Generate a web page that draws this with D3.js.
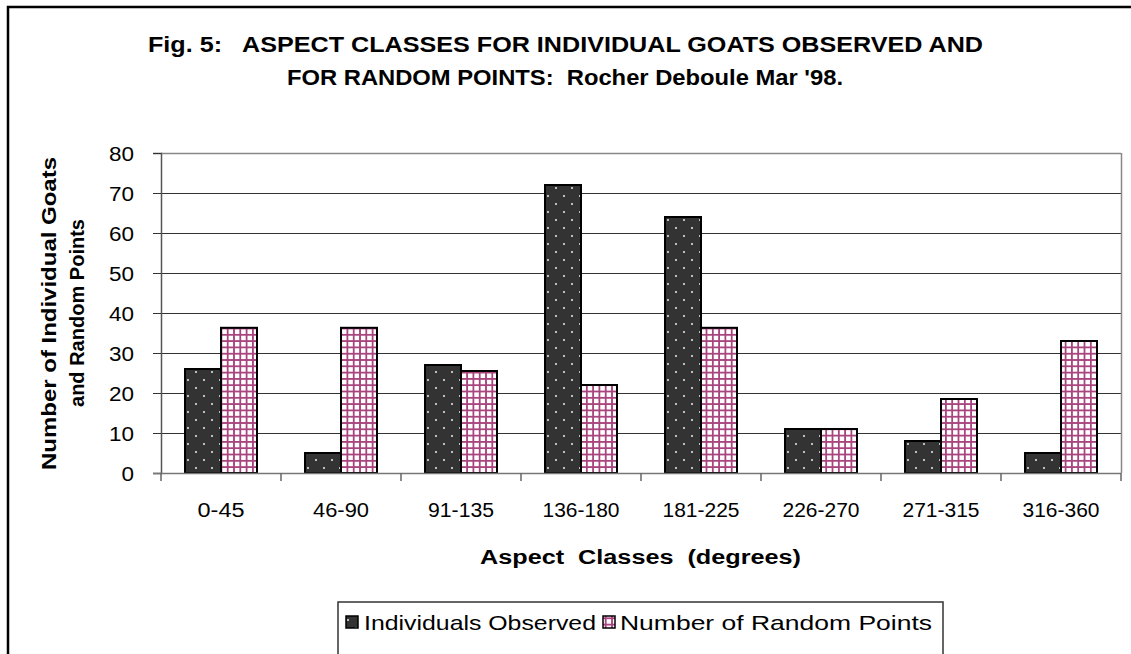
<!DOCTYPE html>
<html><head><meta charset="utf-8">
<script src="https://cdn.jsdelivr.net/npm/d3@7"></script>
<style>body{margin:0;background:#fff}svg{display:block}text{font-family:"Liberation Sans",Arial,sans-serif}</style>
</head><body><svg id="c" width="1131" height="654"></svg>
<script>
const categories = ["0-45","46-90","91-135","136-180","181-225","226-270","271-315","316-360"];
const individualsObserved = [26,5,27,72,64,11,8,5];
const randomPoints = [36.3,36.3,25.5,22,36.3,11,18.5,33];
const yTicks = [0,10,20,30,40,50,60,70,80];
const seriesNames = ["Individuals Observed","Number of Random Points"];

const svg = d3.select("#c");
const defs = svg.append("defs");
const pd = defs.append("pattern").attr("id","dots").attr("patternUnits","userSpaceOnUse")
  .attr("width",16).attr("height",16).attr("x",0).attr("y",0);
pd.append("rect").attr("width",16).attr("height",16).attr("fill","#333");
[[3,3],[11,11]].forEach(([x,y])=>pd.append("rect").attr("x",x).attr("y",y).attr("width",2).attr("height",2).attr("fill","#bdbdbd"));
const pc = defs.append("pattern").attr("id","checks").attr("patternUnits","userSpaceOnUse")
  .attr("width",6.3).attr("height",6.3);
pc.append("rect").attr("width",6.3).attr("height",6.3).attr("fill","#fff");
pc.append("rect").attr("x",0).attr("y",0).attr("width",1.8).attr("height",6.3).attr("fill","#a8447e");
pc.append("rect").attr("x",0).attr("y",0).attr("width",6.3).attr("height",1.8).attr("fill","#a8447e");

function stretch(sel, w){ sel.each(function(){ d3.select(this).attr("textLength",w(this.textContent)).attr("lengthAdjust","spacingAndGlyphs"); }); }

// frame
svg.append("rect").attr("x",8).attr("y",7).attr("width",1200).attr("height",800)
  .attr("fill","none").attr("stroke","#000").attr("stroke-width",2.5);

const L=161,R=1121,T=153,B=473;
const x = d3.scaleBand().domain(categories).range([L,R]).paddingInner(0.4).paddingOuter(0.2);
const y = d3.scaleLinear().domain([0,80]).range([B,T]);
const xs = d3.scaleBand().domain([0,1]).range([0,x.bandwidth()]);

// gridlines
svg.append("g").selectAll("line").data(yTicks.filter(d=>d>0)).join("line")
  .attr("x1",L).attr("x2",R).attr("y1",d=>Math.round(y(d))+0.5).attr("y2",d=>Math.round(y(d))+0.5)
  .attr("stroke","#333").attr("stroke-width",1);
svg.append("line").attr("x1",R+0.5).attr("x2",R+0.5).attr("y1",T).attr("y2",B).attr("stroke","#888").attr("stroke-width",1.5);
svg.append("line").attr("x1",L).attr("x2",R).attr("y1",T+0.5).attr("y2",T+0.5).attr("stroke","#888").attr("stroke-width",1.5);

// y axis
const ya = svg.append("g").attr("transform",`translate(${L},0)`)
  .call(d3.axisLeft(y).tickValues(yTicks).tickSize(8).tickPadding(19));
ya.select(".domain").attr("stroke","#555").attr("stroke-width",1.5);
ya.selectAll(".tick line").attr("stroke","#333");
ya.selectAll("text").attr("font-size",20).attr("fill","#000").attr("font-family","Liberation Sans, Arial, sans-serif").attr("dy","0.36em");
stretch(ya.selectAll("text"),t=>t.length*12.5);

// bars
const g = svg.append("g");
categories.forEach((c,i)=>{
  [[individualsObserved[i],"url(#dots)"],[randomPoints[i],"url(#checks)"]].forEach(([v,f],j)=>{
    g.append("rect").attr("x",x(c)+xs(j)).attr("y",y(v)).attr("width",xs.bandwidth()).attr("height",y(0)-y(v))
      .attr("fill",f).attr("stroke","#000").attr("stroke-width",2);
  });
});

// x axis
const xa = svg.append("g").attr("transform",`translate(0,${B})`);
xa.append("line").attr("x1",L-8).attr("x2",R).attr("y1",0.5).attr("y2",0.5).attr("stroke","#777").attr("stroke-width",1.5);
const bounds = d3.range(categories.length+1).map(i=>L+i*(R-L)/categories.length);
xa.selectAll(".tk").data(bounds).join("line").attr("x1",d=>d).attr("x2",d=>d).attr("y1",0).attr("y2",8)
  .attr("stroke","#666").attr("stroke-width",1.5);
const xl = xa.selectAll(".lb").data(categories).join("text").attr("x",d=>x(d)+x.bandwidth()/2).attr("y",44)
  .attr("text-anchor","middle").attr("font-size",20).text(d=>d);
stretch(xl,t=>t.length===4?47:t.length===5?56:t.length===6?66:77);

// titles
const title = svg.append("g").attr("font-weight","bold").attr("font-size",22);
title.append("text").attr("x",148).attr("y",52).attr("textLength",835).attr("lengthAdjust","spacingAndGlyphs").style("white-space","pre").text("Fig. 5:   ASPECT CLASSES FOR INDIVIDUAL GOATS OBSERVED AND");
title.append("text").attr("x",287).attr("y",85).attr("textLength",556).attr("lengthAdjust","spacingAndGlyphs").style("white-space","pre").text("FOR RANDOM POINTS:  Rocher Deboule Mar '98.");

svg.append("text").attr("x",480).attr("y",564).attr("font-weight","bold")
  .attr("font-size",20).attr("textLength",321).attr("lengthAdjust","spacingAndGlyphs").style("white-space","pre").text("Aspect  Classes  (degrees)");

const yt = svg.append("g").attr("transform","translate(0,313) rotate(-90)").attr("font-weight","bold").attr("font-size",20);
yt.append("text").attr("x",-157).attr("y",56).attr("textLength",313).attr("lengthAdjust","spacingAndGlyphs").text("Number of Individual Goats");
yt.append("text").attr("x",-94).attr("y",84).attr("textLength",188).attr("lengthAdjust","spacingAndGlyphs").text("and Random Points");

// legend
const lg = svg.append("g");
lg.append("rect").attr("x",338).attr("y",602).attr("width",605).attr("height",60).attr("fill","none")
  .attr("stroke","#333").attr("stroke-width",1.5);
const items = [{n:seriesNames[0],f:"url(#dots)",x:346,tx:364,w:232},{n:seriesNames[1],f:"url(#checks)",x:603,tx:620,w:312}];
items.forEach(it=>{
  lg.append("rect").attr("x",it.x).attr("y",616).attr("width",12).attr("height",12).attr("fill",it.f).attr("stroke","#000").attr("stroke-width",1.5);
  lg.append("text").attr("x",it.tx).attr("y",630).attr("font-size",21).attr("textLength",it.w).attr("lengthAdjust","spacingAndGlyphs").text(it.n);
});
</script></body></html>
